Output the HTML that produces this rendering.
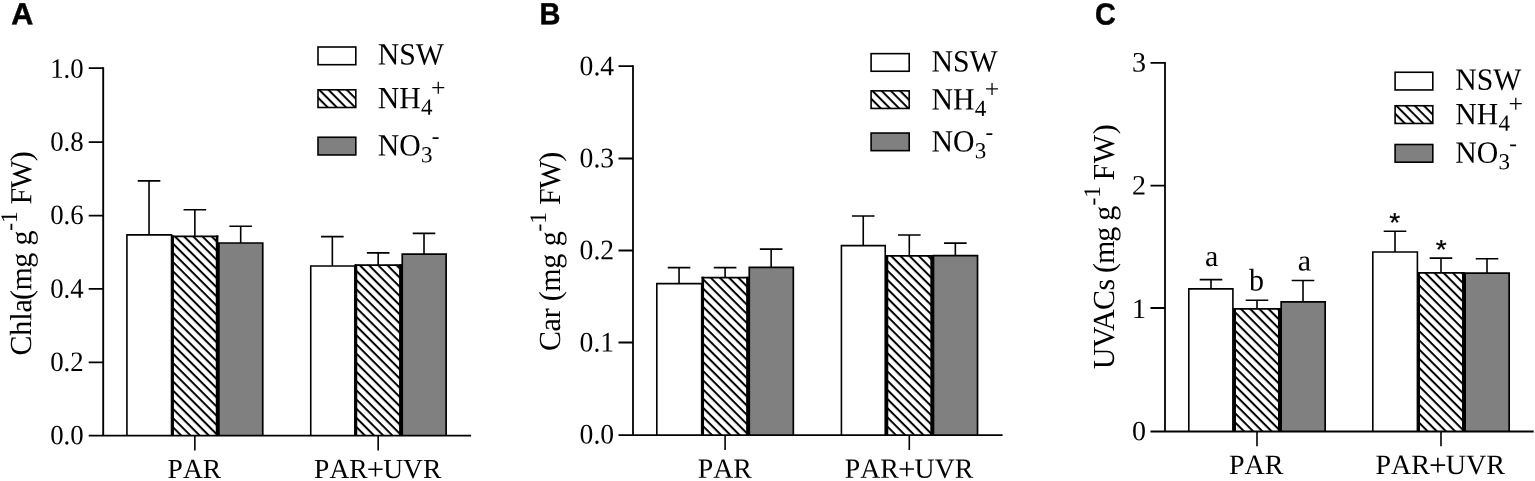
<!DOCTYPE html>
<html lang="en">
<head>
<meta charset="utf-8">
<title>Pigment contents under PAR and PAR+UVR</title>
<style>
html,body{margin:0;padding:0;background:#fff;}
body{width:1535px;height:481px;overflow:hidden;}
svg{display:block;}
text{font-kerning:none;font-variant-ligatures:none;text-rendering:geometricPrecision;fill:#000;white-space:pre;}
.s{font-family:"Liberation Serif", "Times New Roman", Times, serif;}
.k{font-family:"Liberation Serif", "Times New Roman", Times, serif;font-kerning:normal;}
.b{font-family:"Liberation Sans", Arial, Helvetica, sans-serif;font-weight:bold;}
.n{font-family:"Liberation Sans", Arial, Helvetica, sans-serif;}
</style>
</head>
<body>
<svg width="1535" height="481" viewBox="0 0 1535 481">
<defs>
<pattern id="hA1" patternUnits="userSpaceOnUse" x="0" y="3.56" width="6.49" height="6.49" patternTransform="rotate(45)"><rect x="0" y="0" width="6.49" height="6.49" fill="#fff"/><rect x="0" y="0" width="6.49" height="2" fill="#000"/></pattern>
<pattern id="hA4" patternUnits="userSpaceOnUse" x="0" y="3.52" width="6.49" height="6.49" patternTransform="rotate(45)"><rect x="0" y="0" width="6.49" height="6.49" fill="#fff"/><rect x="0" y="0" width="6.49" height="2" fill="#000"/></pattern>
<pattern id="hlA" patternUnits="userSpaceOnUse" x="0" y="5.49" width="6.49" height="6.49" patternTransform="rotate(45)"><rect x="0" y="0" width="6.49" height="6.49" fill="#fff"/><rect x="0" y="0" width="6.49" height="2" fill="#000"/></pattern>
<pattern id="hB1" patternUnits="userSpaceOnUse" x="0" y="4.36" width="6.49" height="6.49" patternTransform="rotate(45)"><rect x="0" y="0" width="6.49" height="6.49" fill="#fff"/><rect x="0" y="0" width="6.49" height="2" fill="#000"/></pattern>
<pattern id="hB4" patternUnits="userSpaceOnUse" x="0" y="4.12" width="6.49" height="6.49" patternTransform="rotate(45)"><rect x="0" y="0" width="6.49" height="6.49" fill="#fff"/><rect x="0" y="0" width="6.49" height="2" fill="#000"/></pattern>
<pattern id="hlB" patternUnits="userSpaceOnUse" x="0" y="4.46" width="6.49" height="6.49" patternTransform="rotate(45)"><rect x="0" y="0" width="6.49" height="6.49" fill="#fff"/><rect x="0" y="0" width="6.49" height="2" fill="#000"/></pattern>
<pattern id="hC1" patternUnits="userSpaceOnUse" x="0" y="1.95" width="6.49" height="6.49" patternTransform="rotate(45)"><rect x="0" y="0" width="6.49" height="6.49" fill="#fff"/><rect x="0" y="0" width="6.49" height="2" fill="#000"/></pattern>
<pattern id="hC4" patternUnits="userSpaceOnUse" x="0" y="1.92" width="6.49" height="6.49" patternTransform="rotate(45)"><rect x="0" y="0" width="6.49" height="6.49" fill="#fff"/><rect x="0" y="0" width="6.49" height="2" fill="#000"/></pattern>
<pattern id="hlC" patternUnits="userSpaceOnUse" x="0" y="1.49" width="6.49" height="6.49" patternTransform="rotate(45)"><rect x="0" y="0" width="6.49" height="6.49" fill="#fff"/><rect x="0" y="0" width="6.49" height="2" fill="#000"/></pattern>
</defs>
<rect x="0" y="0" width="1535" height="481" fill="#fff"/>
<g id="panel-A">
<text class="b" transform="translate(11.3 24.3) rotate(0.03)" font-size="30.5" stroke="#000" stroke-width="0.5" stroke-linejoin="miter">A</text>
<path d="M149.03 234.9 V180.9 M137.73 180.9 H160.33" stroke="#000" stroke-width="1.6" fill="none"/>
<path d="M126.92 435.6 V234.9 H171.54 V435.6" fill="#fff" stroke="#000" stroke-width="1.6"/>
<path d="M240.69 243.1 V226.3 M229.39 226.3 H251.99" stroke="#000" stroke-width="1.6" fill="none"/>
<path d="M218.92 435.6 V243 H262.75 V435.6" fill="#808080" stroke="#000" stroke-width="1.7"/>
<path d="M194.86 236.3 V209.7 M183.56 209.7 H206.16" stroke="#000" stroke-width="1.6" fill="none"/>
<rect x="172.34" y="235.9" width="45.03" height="199.7" fill="url(#hA1)"/>
<path d="M172.65 435.6 V235.4 M217.07 435.6 V235.4" fill="none" stroke="#000" stroke-width="2.6"/>
<path d="M171.34 236.3 H218.37" fill="none" stroke="#000" stroke-width="1.8"/>
<path d="M218.22 242.6 V435.6" stroke="#000" stroke-width="1.2" fill="none"/>
<path d="M332.35 266 V236.6 M321.05 236.6 H343.65" stroke="#000" stroke-width="1.6" fill="none"/>
<path d="M310.74 435.6 V266 H354.86 V435.6" fill="#fff" stroke="#000" stroke-width="1.6"/>
<path d="M424.01 254.2 V233.4 M412.71 233.4 H435.31" stroke="#000" stroke-width="1.6" fill="none"/>
<path d="M402.25 435.6 V254.1 H446.12 V435.6" fill="#808080" stroke="#000" stroke-width="1.7"/>
<path d="M378.18 265.1 V252.9 M366.88 252.9 H389.48" stroke="#000" stroke-width="1.6" fill="none"/>
<rect x="355.66" y="264.7" width="45.03" height="170.9" fill="url(#hA4)"/>
<path d="M355.96 435.6 V264.2 M400.39 435.6 V264.2" fill="none" stroke="#000" stroke-width="2.6"/>
<path d="M354.66 265.1 H401.69" fill="none" stroke="#000" stroke-width="1.8"/>
<path d="M401.54 264.6 V435.6" stroke="#000" stroke-width="1.2" fill="none"/>
<path d="M103.2 67.15 V435.6" stroke="#000" stroke-width="1.9" fill="none"/>
<path d="M88.7 435.6 H471.1" stroke="#000" stroke-width="1.9" fill="none"/>
<text class="s" transform="translate(83.7 444.2) rotate(0.03) scale(0.957 1)" font-size="28" text-anchor="end">0.0</text>
<text class="s" transform="translate(83.7 370.9) rotate(0.03) scale(0.957 1)" font-size="28" text-anchor="end">0.2</text>
<text class="s" transform="translate(83.7 297.7) rotate(0.03) scale(0.957 1)" font-size="28" text-anchor="end">0.4</text>
<text class="s" transform="translate(83.7 224.1) rotate(0.03) scale(0.957 1)" font-size="28" text-anchor="end">0.6</text>
<text class="s" transform="translate(83.7 150.65) rotate(0.03) scale(0.957 1)" font-size="28" text-anchor="end">0.8</text>
<text class="s" transform="translate(83.7 77.7) rotate(0.03) scale(0.957 1)" font-size="28" text-anchor="end">1.0</text>
<path d="M88.7 362.4 H103.2 M88.7 288.9 H103.2 M88.7 215.6 H103.2 M88.7 142.1 H103.2 M88.7 68.1 H103.2" stroke="#000" stroke-width="1.9" fill="none"/>
<path d="M194.86 435.6 V450.6" stroke="#000" stroke-width="1.6" fill="none"/>
<text class="s" transform="translate(194.36 478.1) rotate(0.03)" font-size="27.5" text-anchor="middle">PAR</text>
<path d="M378.18 435.6 V450.6" stroke="#000" stroke-width="1.6" fill="none"/>
<text class="s" transform="translate(377.68 478.1) rotate(0.03)" font-size="27.5" text-anchor="middle">PAR<tspan font-size="1.12em" dx="-0.9" dy="1.5">+</tspan><tspan dx="-0.9" dy="-1.5">UVR</tspan></text>
<g transform="translate(31.3 0) rotate(-89.97) scale(1 1.02)">
<text class="k" x="-355.6" y="0" font-size="30" style="letter-spacing:-0.1px">Chla</text>
<text class="k" x="-300.1" y="0" font-size="30" style="letter-spacing:-0.5px">(mg</text>
<text class="k" x="-245.4" y="0" font-size="30" style="letter-spacing:0px">g</text>
<text class="k" x="-230.8" y="-13.82" font-size="23.3">-1</text>
<text class="k" x="-204.5" y="0" font-size="30" style="letter-spacing:-0.9px">FW)</text>
</g>
<rect x="318" y="47" width="37.8" height="17.7" fill="#fff" stroke="#000" stroke-width="1.6"/>
<text class="s" transform="translate(377.8 64.5) rotate(0.03) scale(0.992 1.03)" font-size="30">NSW</text>
<rect x="318" y="89.8" width="37.8" height="17.7" fill="url(#hlA)" stroke="#000" stroke-width="1.6"/>
<text class="s" transform="translate(377.8 108.2) rotate(0.03) scale(0.992 1.03)" font-size="30">NH</text>
<text class="s" transform="translate(421.1 114.8) rotate(0.03)" font-size="23">4</text>
<text class="s" transform="translate(431 96.3) rotate(0.03)" font-size="25.8">+</text>
<rect x="318" y="137.25" width="37.8" height="17.7" fill="#808080" stroke="#000" stroke-width="1.6"/>
<text class="s" transform="translate(377.8 155.6) rotate(0.03) scale(0.992 1.03)" font-size="30">NO</text>
<text class="s" transform="translate(421.1 162.2) rotate(0.03)" font-size="23">3</text>
<text class="s" transform="translate(431.75 143.6) rotate(0.03)" font-size="23">-</text>
</g>
<g id="panel-B">
<text class="b" transform="translate(539.5 24.3) rotate(0.03) scale(0.95 1)" font-size="30.5" stroke="#000" stroke-width="0.5" stroke-linejoin="miter">B</text>
<path d="M679.05 283.6 V267.6 M667.75 267.6 H690.35" stroke="#000" stroke-width="1.6" fill="none"/>
<path d="M656.82 435.03 V283.6 H701.68 V435.03" fill="#fff" stroke="#000" stroke-width="1.6"/>
<path d="M771.15 267.5 V249.1 M759.85 249.1 H782.45" stroke="#000" stroke-width="1.6" fill="none"/>
<path d="M749.27 435.03 V267.4 H793.32 V435.03" fill="#808080" stroke="#000" stroke-width="1.7"/>
<path d="M725.1 277.7 V267.6 M713.8 267.6 H736.4" stroke="#000" stroke-width="1.6" fill="none"/>
<rect x="702.48" y="277.3" width="45.25" height="157.73" fill="url(#hB1)"/>
<path d="M702.77 435.03 V276.8 M747.43 435.03 V276.8" fill="none" stroke="#000" stroke-width="2.6"/>
<path d="M701.48 277.7 H748.73" fill="none" stroke="#000" stroke-width="1.8"/>
<path d="M748.58 277.2 V435.03" stroke="#000" stroke-width="1.2" fill="none"/>
<path d="M863.25 245.6 V216 M851.95 216 H874.55" stroke="#000" stroke-width="1.6" fill="none"/>
<path d="M841.42 435.03 V245.6 H885.23 V435.03" fill="#fff" stroke="#000" stroke-width="1.6"/>
<path d="M955.35 255.8 V243.1 M944.05 243.1 H966.65" stroke="#000" stroke-width="1.6" fill="none"/>
<path d="M933.48 435.03 V255.7 H977.52 V435.03" fill="#808080" stroke="#000" stroke-width="1.7"/>
<path d="M909.3 255.8 V235 M898 235 H920.6" stroke="#000" stroke-width="1.6" fill="none"/>
<rect x="886.67" y="255.4" width="45.25" height="179.63" fill="url(#hB4)"/>
<path d="M886.97 435.03 V254.9 M931.63 435.03 V254.9" fill="none" stroke="#000" stroke-width="2.6"/>
<path d="M885.67 255.8 H932.93" fill="none" stroke="#000" stroke-width="1.8"/>
<path d="M885.52 255.3 V435.03" stroke="#000" stroke-width="1" fill="none"/>
<path d="M932.78 255.3 V435.03" stroke="#000" stroke-width="1.2" fill="none"/>
<path d="M633 65.15 V435.03" stroke="#000" stroke-width="1.8" fill="none"/>
<path d="M618.5 435.03 H1002.6" stroke="#000" stroke-width="1.8" fill="none"/>
<text class="s" transform="translate(614.1 443.6) rotate(0.03) scale(0.985 1.01)" font-size="28" text-anchor="end">0.0</text>
<text class="s" transform="translate(614.1 351.6) rotate(0.03) scale(0.985 1.01)" font-size="28" text-anchor="end">0.1</text>
<text class="s" transform="translate(614.1 259.34) rotate(0.03) scale(0.985 1.01)" font-size="28" text-anchor="end">0.2</text>
<text class="s" transform="translate(614.1 167.34) rotate(0.03) scale(0.985 1.01)" font-size="28" text-anchor="end">0.3</text>
<text class="s" transform="translate(614.1 75.3) rotate(0.03) scale(0.985 1.01)" font-size="28" text-anchor="end">0.4</text>
<path d="M618.5 342.51 H633 M618.5 250.51 H633 M618.5 158.51 H633 M618.5 66.05 H633" stroke="#000" stroke-width="1.8" fill="none"/>
<path d="M725.1 435.03 V450.03" stroke="#000" stroke-width="1.6" fill="none"/>
<text class="s" transform="translate(724.8 477.7) rotate(0.03)" font-size="27.8" text-anchor="middle">PAR</text>
<path d="M909.3 435.03 V450.03" stroke="#000" stroke-width="1.6" fill="none"/>
<text class="s" transform="translate(909 477.7) rotate(0.03)" font-size="27.8" text-anchor="middle">PAR<tspan font-size="1.12em" dx="-0.9" dy="1.5">+</tspan><tspan dx="-0.9" dy="-1.5">UVR</tspan></text>
<g transform="translate(560.1 0) rotate(-89.97) scale(1 1.02)">
<text class="k" x="-351.1" y="0" font-size="30" style="letter-spacing:-0.3px">Car</text>
<text class="k" x="-301.2" y="0" font-size="30" style="letter-spacing:-0.5px">(mg</text>
<text class="k" x="-246.2" y="0" font-size="30" style="letter-spacing:0px">g</text>
<text class="k" x="-231.4" y="-13.82" font-size="23.3">-1</text>
<text class="k" x="-204.9" y="0" font-size="30" style="letter-spacing:-0.9px">FW)</text>
</g>
<rect x="871.1" y="53.65" width="38.1" height="17.6" fill="#fff" stroke="#000" stroke-width="1.6"/>
<text class="s" transform="translate(931.5 71.6) rotate(0.03) scale(0.992 1.03)" font-size="30">NSW</text>
<rect x="871.1" y="90.85" width="38.1" height="17.6" fill="url(#hlB)" stroke="#000" stroke-width="1.6"/>
<text class="s" transform="translate(931.5 109.5) rotate(0.03) scale(0.992 1.03)" font-size="30">NH</text>
<text class="s" transform="translate(974.8 116.1) rotate(0.03)" font-size="23">4</text>
<text class="s" transform="translate(984.7 97.6) rotate(0.03)" font-size="25.8">+</text>
<rect x="871.1" y="133.05" width="38.1" height="17.6" fill="#808080" stroke="#000" stroke-width="1.6"/>
<text class="s" transform="translate(931.5 151.6) rotate(0.03) scale(0.992 1.03)" font-size="30">NO</text>
<text class="s" transform="translate(974.8 158.2) rotate(0.03)" font-size="23">3</text>
<text class="s" transform="translate(985.45 139.6) rotate(0.03)" font-size="23">-</text>
</g>
<g id="panel-C">
<text class="b" transform="translate(1094.9 24.6) rotate(0.03) scale(0.94 1)" font-size="30.5" stroke="#000" stroke-width="0.5" stroke-linejoin="miter">C</text>
<path d="M1211 288.9 V279.6 M1199.7 279.6 H1222.3" stroke="#000" stroke-width="1.6" fill="none"/>
<path d="M1188.8 431.5 V288.9 H1232.9 V431.5" fill="#fff" stroke="#000" stroke-width="1.6"/>
<path d="M1303 302 V280.5 M1291.7 280.5 H1314.3" stroke="#000" stroke-width="1.6" fill="none"/>
<path d="M1281.15 431.5 V301.9 H1325.15 V431.5" fill="#808080" stroke="#000" stroke-width="1.7"/>
<path d="M1257 308.8 V300.2 M1245.7 300.2 H1268.3" stroke="#000" stroke-width="1.6" fill="none"/>
<rect x="1234.4" y="308.4" width="45.2" height="123.1" fill="url(#hC1)"/>
<path d="M1234.7 431.5 V307.9 M1279.3 431.5 V307.9" fill="none" stroke="#000" stroke-width="2.6"/>
<path d="M1233.4 308.8 H1280.6" fill="none" stroke="#000" stroke-width="1.8"/>
<path d="M1233.25 308.3 V431.5" stroke="#000" stroke-width="1" fill="none"/>
<path d="M1280.45 308.3 V431.5" stroke="#000" stroke-width="1.2" fill="none"/>
<path d="M1395 252 V231.2 M1383.7 231.2 H1406.3" stroke="#000" stroke-width="1.6" fill="none"/>
<path d="M1372.8 431.5 V252 H1417.4 V431.5" fill="#fff" stroke="#000" stroke-width="1.6"/>
<path d="M1487 273.3 V258.8 M1475.7 258.8 H1498.3" stroke="#000" stroke-width="1.6" fill="none"/>
<path d="M1465.15 431.5 V273.2 H1509.15 V431.5" fill="#808080" stroke="#000" stroke-width="1.7"/>
<path d="M1441 272.8 V258.1 M1429.7 258.1 H1452.3" stroke="#000" stroke-width="1.6" fill="none"/>
<rect x="1418.4" y="272.4" width="45.2" height="159.1" fill="url(#hC4)"/>
<path d="M1418.7 431.5 V271.9 M1463.3 431.5 V271.9" fill="none" stroke="#000" stroke-width="2.6"/>
<path d="M1417.4 272.8 H1464.6" fill="none" stroke="#000" stroke-width="1.8"/>
<path d="M1464.45 272.8 V431.5" stroke="#000" stroke-width="1.2" fill="none"/>
<path d="M1165 62.02 V431.5" stroke="#000" stroke-width="1.8" fill="none"/>
<path d="M1150.5 431.5 H1533.7" stroke="#000" stroke-width="1.8" fill="none"/>
<text class="s" transform="translate(1146 440.3) rotate(0.03)" font-size="28" text-anchor="end">0</text>
<text class="s" transform="translate(1146 318) rotate(0.03)" font-size="28" text-anchor="end">1</text>
<text class="s" transform="translate(1146 194.55) rotate(0.03)" font-size="28" text-anchor="end">2</text>
<text class="s" transform="translate(1146 71.55) rotate(0.03)" font-size="28" text-anchor="end">3</text>
<path d="M1150.5 307.99 H1165 M1150.5 185.61 H1165 M1150.5 62.92 H1165" stroke="#000" stroke-width="1.8" fill="none"/>
<path d="M1257 431.5 V446.3" stroke="#000" stroke-width="1.6" fill="none"/>
<text class="s" transform="translate(1256.2 474) rotate(0.03)" font-size="28" text-anchor="middle">PAR</text>
<path d="M1441 431.5 V446.3" stroke="#000" stroke-width="1.6" fill="none"/>
<text class="s" transform="translate(1440.2 474) rotate(0.03)" font-size="28" text-anchor="middle">PAR<tspan font-size="1.12em" dx="-0.9" dy="1.5">+</tspan><tspan dx="-0.9" dy="-1.5">UVR</tspan></text>
<g transform="translate(1114.1 0) rotate(-89.97) scale(1 1.02)">
<text class="k" x="-369.3" y="0" font-size="30" style="letter-spacing:-0.6px">UVACs</text>
<text class="k" x="-273" y="0" font-size="30" style="letter-spacing:-1.1px">(mg</text>
<text class="k" x="-220.7" y="0" font-size="30" style="letter-spacing:0px">g</text>
<text class="k" x="-205.5" y="-13.82" font-size="23.3">-1</text>
<text class="k" x="-180.5" y="0" font-size="30" style="letter-spacing:0.6px">FW)</text>
</g>
<rect x="1395.1" y="72.25" width="37.7" height="17.7" fill="#fff" stroke="#000" stroke-width="1.6"/>
<text class="s" transform="translate(1455.2 89.8) rotate(0.03) scale(0.992 1.03)" font-size="30">NSW</text>
<rect x="1395.1" y="105.75" width="37.7" height="17.7" fill="url(#hlC)" stroke="#000" stroke-width="1.6"/>
<text class="s" transform="translate(1455.2 124.2) rotate(0.03) scale(0.992 1.03)" font-size="30">NH</text>
<text class="s" transform="translate(1498.5 130.8) rotate(0.03)" font-size="23">4</text>
<text class="s" transform="translate(1508.4 112.3) rotate(0.03)" font-size="25.8">+</text>
<rect x="1395.1" y="144.5" width="37.7" height="17.7" fill="#808080" stroke="#000" stroke-width="1.6"/>
<text class="s" transform="translate(1455.2 162.7) rotate(0.03) scale(0.992 1.03)" font-size="30">NO</text>
<text class="s" transform="translate(1498.5 169.3) rotate(0.03)" font-size="23">3</text>
<text class="s" transform="translate(1509.15 150.7) rotate(0.03)" font-size="23">-</text>
<text class="s" transform="translate(1211.7 266.1) rotate(0.03)" font-size="30" text-anchor="middle">a</text>
<text class="s" transform="translate(1256.6 290.4) rotate(0.03) scale(1 1.04)" font-size="30" text-anchor="middle">b</text>
<text class="s" transform="translate(1304.4 270.5) rotate(0.03)" font-size="30" text-anchor="middle">a</text>
<text class="n" transform="translate(1394.6 231.4) rotate(0.03) scale(1.06 1)" font-size="26.5" text-anchor="middle" stroke="#000" stroke-width="0.3">*</text>
<text class="n" transform="translate(1441.2 258.4) rotate(0.03) scale(1.06 1)" font-size="26.5" text-anchor="middle" stroke="#000" stroke-width="0.3">*</text>
</g>
</svg>
</body>
</html>
